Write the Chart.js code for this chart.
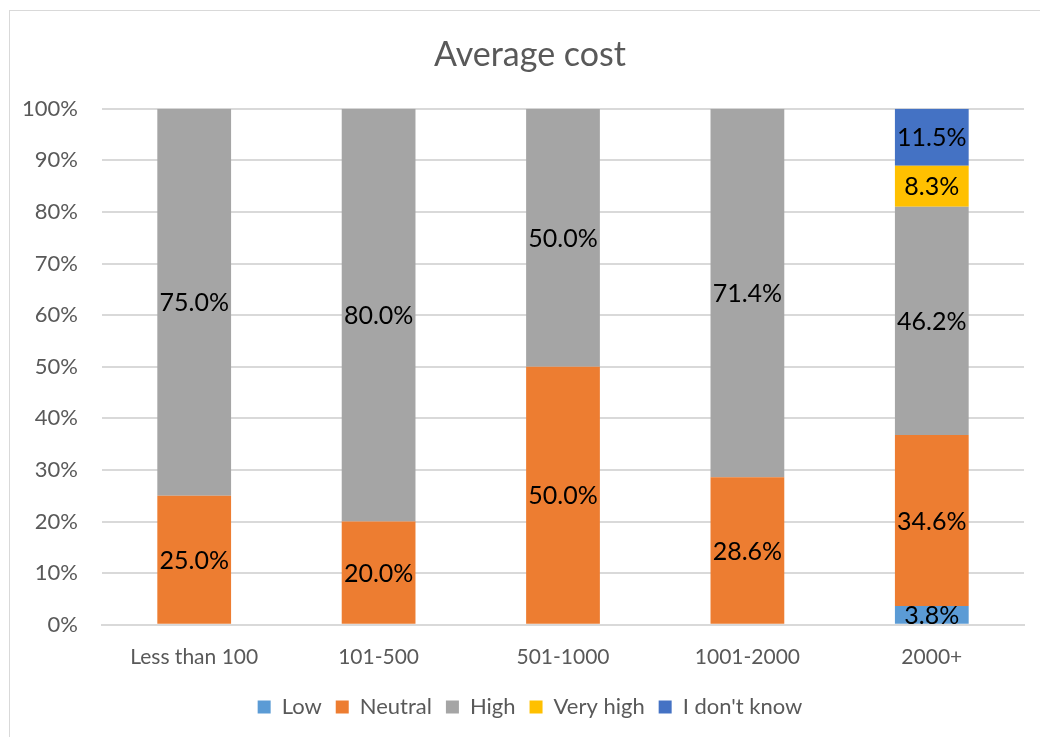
<!DOCTYPE html>
<html>
<head>
<meta charset="utf-8" />
<title>Average cost</title>
<script src="https://cdn.jsdelivr.net/npm/chart.js@4.4.0/dist/chart.umd.min.js"></script>
<style>
  body { margin: 0; background: #fff; }
  #rand { position: absolute; left: 9px; top: 10px; width: 1100px; height: 800px; border: 1px solid #d9d9d9; box-sizing: border-box; }
  #kast { position: absolute; left: 0; top: 0; width: 1040px; height: 737px; }
</style>
</head>
<body>
<div id="rand"></div>
<div id="kast"><canvas id="joonis"></canvas></div>
<script>
// values as shown in the data labels (percent)
const kategooriad = ["Less than 100", "101-500", "501-1000", "1001-2000", "2000+"];
const low      = [0, 0, 0, 0, 3.8];
const neutral  = [25.0, 20.0, 50.0, 28.6, 34.6];
const high     = [75.0, 80.0, 50.0, 71.4, 46.2];
const veryHigh = [0, 0, 0, 0, 8.3];
const dontKnow = [0, 0, 0, 0, 11.5];
const seeriad = ["Low", "Neutral", "High", "Very high", "I don't know"];
const varvid = ["#5B9BD5", "#ED7D31", "#A5A5A5", "#FFC000", "#4472C4"];

const koik = [low, neutral, high, veryHigh, dontKnow];
// 100% stacked: each bar is scaled to its own total
const summad = kategooriad.map((k, i) => koik.reduce((s, r) => s + r[i], 0));

const andmed = koik.map((rida, j) => ({
  label: seeriad[j],
  data: rida.map((v, i) => v / summad[i] * 100),
  tooresed: rida,
  backgroundColor: varvid[j],
  borderWidth: 0,
  categoryPercentage: 1,
  barPercentage: 0.4
}));

const sildid = {
  id: "sildid",
  afterDatasetsDraw(chart) {
    const ctx = chart.ctx;
    ctx.save();
    ctx.font = "25px Lato";
    ctx.fillStyle = "#000";
    ctx.textAlign = "center";
    ctx.textBaseline = "middle";
    chart.data.datasets.forEach((ds, j) => {
      chart.getDatasetMeta(j).data.forEach((el, i) => {
        const v = ds.tooresed[i];
        if (!v) return;
        ctx.fillText(v.toFixed(1) + "%", el.x, (el.y + el.base) / 2 + 1);
      });
    });
    ctx.restore();
  }
};

new Chart(document.getElementById("joonis"), {
  type: "bar",
  data: { labels: kategooriad, datasets: andmed },
  plugins: [sildid],
  options: {
    responsive: true,
    maintainAspectRatio: false,
    animation: false,
    layout: { padding: { left: 20, right: 0, top: 0, bottom: 9 } },
    plugins: {
      title: {
        display: true,
        text: "Average cost",
        color: "#595959",
        font: { family: "Lato", size: 34, weight: "normal" },
        padding: { top: 35, bottom: 33 }
      },
      legend: {
        position: "bottom",
        labels: {
          color: "#595959",
          font: { family: "Lato", size: 22 },
          boxWidth: 13,
          boxHeight: 13,
          padding: 14
        }
      },
      tooltip: { enabled: false }
    },
    scales: {
      x: {
        stacked: true,
        grid: { display: false },
        border: { color: "#d9d9d9", width: 2 },
        ticks: { color: "#595959", font: { family: "Lato", size: 21 }, padding: 12 }
      },
      y: {
        stacked: true,
        min: 0,
        max: 100,
        afterFit(s) { s.width = 82; },
        grid: { color: "#d9d9d9", lineWidth: 2, drawTicks: false },
        border: { display: false },
        ticks: {
          stepSize: 10,
          color: "#595959",
          font: { family: "Lato", size: 22 },
          padding: 24,
          callback: v => v + "%"
        }
      },
      // empty right margin so the title and legend sit where they do in the original
      parem: {
        position: "right",
        afterFit(s) { s.width = 16; },
        grid: { display: false },
        border: { display: false },
        ticks: { display: false }
      }
    }
  }
});
</script>
</body>
</html>
